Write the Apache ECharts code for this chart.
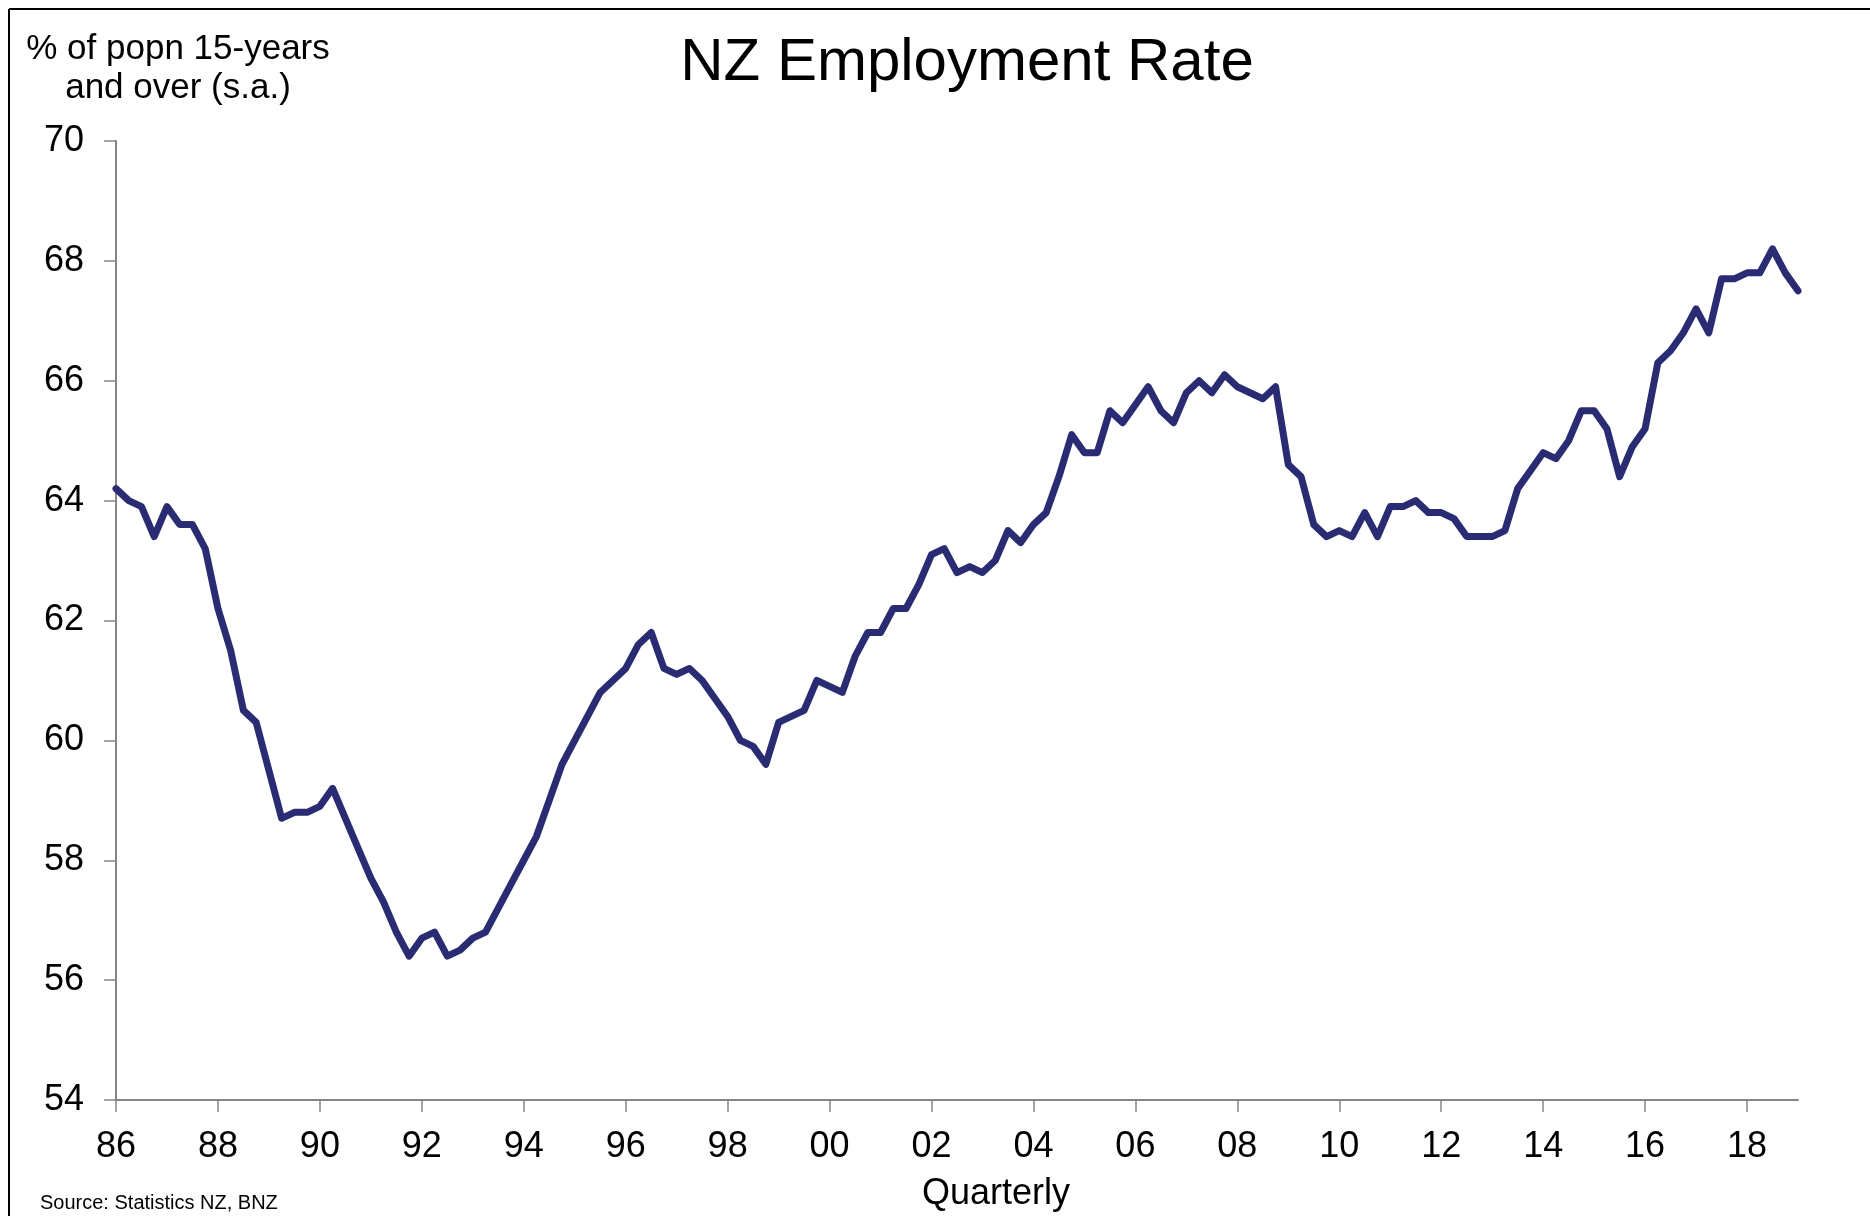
<!DOCTYPE html>
<html lang="en">
<head>
  <meta charset="UTF-8">
  <title>NZ Employment Rate</title>
  <script src="https://cdn.jsdelivr.net/npm/echarts@6/dist/echarts.min.js"></script>
  <style>
    html, body { margin: 0; padding: 0; background: #fff; }
    #chart { width: 1870px; height: 1216px; }
  </style>
</head>
<body>
<div id="chart"></div>
<script>
  // quarterly, 1986 Q1 .. 2019 Q1
  var startYear = 1986;
  var tickLabels = ['86', '88', '90', '92', '94', '96', '98', '00', '02',
    '04', '06', '08', '10', '12', '14', '16', '18'];

  var employmentRate = [
    64.2, 64.0, 63.9, 63.4, 63.9, 63.6, 63.6, 63.2,
    62.2, 61.5, 60.5, 60.3, 59.5, 58.7, 58.8, 58.8,
    58.9, 59.2, 58.7, 58.2, 57.7, 57.3, 56.8, 56.4,
    56.7, 56.8, 56.4, 56.5, 56.7, 56.8, 57.2, 57.6,
    58.0, 58.4, 59.0, 59.6, 60.0, 60.4, 60.8, 61.0,
    61.2, 61.6, 61.8, 61.2, 61.1, 61.2, 61.0, 60.7,
    60.4, 60.0, 59.9, 59.6, 60.3, 60.4, 60.5, 61.0,
    60.9, 60.8, 61.4, 61.8, 61.8, 62.2, 62.2, 62.6,
    63.1, 63.2, 62.8, 62.9, 62.8, 63.0, 63.5, 63.3,
    63.6, 63.8, 64.4, 65.1, 64.8, 64.8, 65.5, 65.3,
    65.6, 65.9, 65.5, 65.3, 65.8, 66.0, 65.8, 66.1,
    65.9, 65.8, 65.7, 65.9, 64.6, 64.4, 63.6, 63.4,
    63.5, 63.4, 63.8, 63.4, 63.9, 63.9, 64.0, 63.8,
    63.8, 63.7, 63.4, 63.4, 63.4, 63.5, 64.2, 64.5,
    64.8, 64.7, 65.0, 65.5, 65.5, 65.2, 64.4, 64.9,
    65.2, 66.3, 66.5, 66.8, 67.2, 66.8, 67.7, 67.7,
    67.8, 67.8, 68.2, 67.8, 67.5
  ];

  var quarters = [];
  for (var i = 0; i < employmentRate.length; i++) {
    quarters.push((startYear + Math.floor(i / 4)) + ' Q' + (i % 4 + 1));
  }

  var FONT = '"Liberation Sans", Arial, sans-serif';
  var AXIS_GREY = '#868686';

  var myChart = echarts.init(document.getElementById('chart'));
  var option = {
    animation: false,
    backgroundColor: '#fff',
    grid: { left: 116, right: 72, top: 141, bottom: 116 },
    xAxis: {
      type: 'category',
      data: quarters,
      boundaryGap: false,
      axisLine: { lineStyle: { color: AXIS_GREY, width: 2 } },
      axisTick: { interval: 7, length: 12, lineStyle: { color: AXIS_GREY, width: 1.5 } },
      axisLabel: {
        interval: 7,
        margin: 29,
        color: '#000',
        fontSize: 36,
        fontFamily: FONT,
        formatter: function (val, idx) { return tickLabels[idx / 8]; }
      },
      splitLine: { show: false }
    },
    yAxis: {
      type: 'value',
      min: 54,
      max: 70,
      interval: 2,
      axisLine: { show: true, lineStyle: { color: AXIS_GREY, width: 2 } },
      axisTick: { show: true, length: 12, lineStyle: { color: AXIS_GREY, width: 1.5 } },
      axisLabel: { margin: 32, color: '#000', fontSize: 36, fontFamily: FONT },
      splitLine: { show: false }
    },
    series: [{
      name: 'Employment rate',
      type: 'line',
      data: employmentRate,
      showSymbol: false,
      lineStyle: { color: '#2A2C73', width: 7, join: 'round', cap: 'round' }
    }],
    graphic: [
      { type: 'line', shape: { x1: 9, y1: 9, x2: 1870, y2: 9 }, style: { stroke: '#000', lineWidth: 2 } },
      { type: 'line', shape: { x1: 9, y1: 9, x2: 9, y2: 1216 }, style: { stroke: '#000', lineWidth: 2 } },
      { type: 'text', x: 967, y: 63,
        style: { text: 'NZ Employment Rate', fill: '#000', font: '60px ' + FONT,
          textAlign: 'center', textVerticalAlign: 'middle' } },
      { type: 'text', x: 178, y: 49,
        style: { text: '% of popn 15-years', fill: '#000', font: '35px ' + FONT,
          textAlign: 'center', textVerticalAlign: 'middle' } },
      { type: 'text', x: 178, y: 88,
        style: { text: 'and over (s.a.)', fill: '#000', font: '35px ' + FONT,
          textAlign: 'center', textVerticalAlign: 'middle' } },
      { type: 'text', x: 996, y: 1194,
        style: { text: 'Quarterly', fill: '#000', font: '36px ' + FONT,
          textAlign: 'center', textVerticalAlign: 'middle' } },
      { type: 'text', x: 40, y: 1203,
        style: { text: 'Source: Statistics NZ, BNZ', fill: '#000', font: '20px ' + FONT,
          textAlign: 'left', textVerticalAlign: 'middle' } }
    ]
  };

  myChart.setOption(option);
  window.addEventListener('resize', function () {
    myChart.resize();
  });
</script>
</body>
</html>
